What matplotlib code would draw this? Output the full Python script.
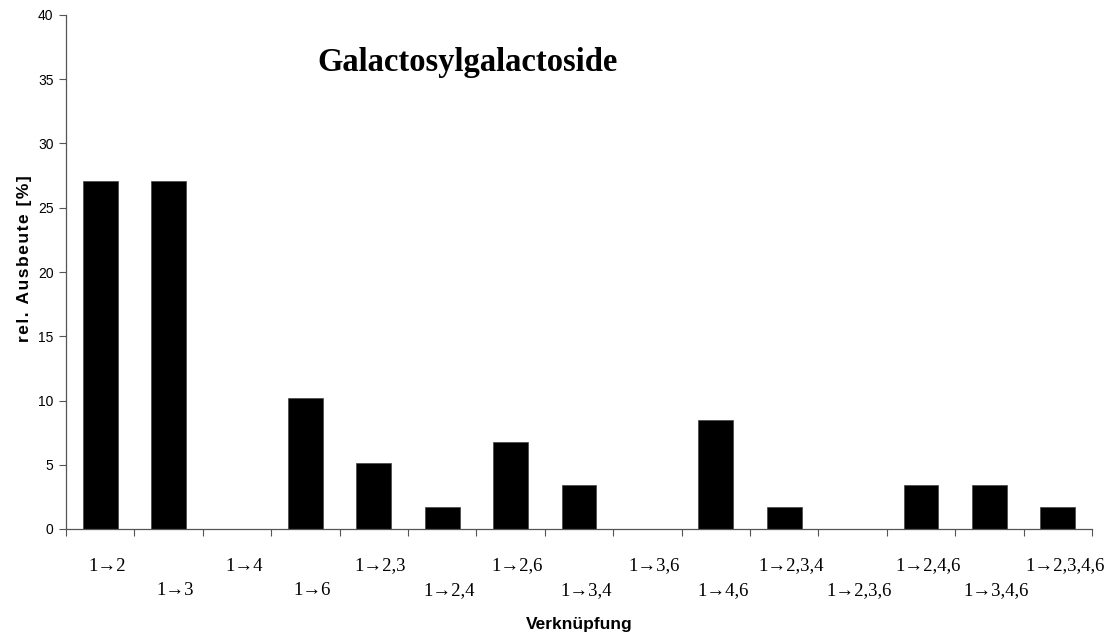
import matplotlib
matplotlib.use("Agg")
import matplotlib.pyplot as plt
import numpy as np

# Daten
verknuepfung = ["1→2", "1→3", "1→4", "1→6", "1→2,3", "1→2,4", "1→2,6", "1→3,4",
                "1→3,6", "1→4,6", "1→2,3,4", "1→2,3,6", "1→2,4,6", "1→3,4,6", "1→2,3,4,6"]
ausbeute = [27.1, 27.1, 0, 10.2, 5.1, 1.7, 6.8, 3.4, 0, 8.5, 1.7, 0, 3.4, 3.4, 1.7]

fig = plt.figure(figsize=(11.04, 6.37), dpi=100)
ax = fig.add_axes([66 / 1104, 1 - 529 / 637, (1092 - 66) / 1104, (529 - 15) / 637])

x = np.arange(len(verknuepfung))
ax.bar(x, ausbeute, width=0.51, color="black", edgecolor="#444444", linewidth=0.5)

ax.set_xlim(-0.5, len(verknuepfung) - 0.5)
ax.set_ylim(0, 40)
ax.set_yticks(np.arange(0, 41, 5))
ax.tick_params(axis="y", direction="out", length=5, width=0.8, color="#555555",
               labelsize=10, pad=4)
for lab in ax.get_yticklabels():
    lab.set_family(["Liberation Sans", "DejaVu Sans"])

# Ticks zwischen den Kategorien
ax.set_xticks(np.arange(-0.5, len(verknuepfung), 1))
ax.set_xticklabels([])
ax.tick_params(axis="x", direction="out", length=5, width=0.8, color="#555555")

for s in ["top", "right"]:
    ax.spines[s].set_visible(False)
for s in ["left", "bottom"]:
    ax.spines[s].set_color("#555555")
    ax.spines[s].set_linewidth(0.9)

# versetzte Kategorienbeschriftung
for i, lab in enumerate(verknuepfung):
    y = -0.072 if i % 2 == 0 else -0.12
    ax.text(i + 0.1, y, lab, transform=ax.get_xaxis_transform(), ha="center", va="center",
            fontsize=13.5, family=["Liberation Serif", "DejaVu Serif"])

ax.text(0.5, -0.185, "Verknüpfung", transform=ax.transAxes, ha="center", va="center",
        fontsize=12.5, fontweight="bold", family=["Liberation Sans", "DejaVu Sans"])
ylab = "\u200a".join("rel. Ausbeute [%]")
fig.text(25 / 1104, 1 - 259 / 637, ylab, rotation=90, ha="center", va="center",
         fontsize=12.5, fontweight="bold", family=["Liberation Sans", "DejaVu Sans"])

ax.text(468 / 1104, 1 - 62 / 637, "Galactosylgalactoside", transform=fig.transFigure,
        ha="center", va="center", fontsize=23.5, fontweight="bold",
        family=["Liberation Serif", "DejaVu Serif"])

fig.savefig("out.png", dpi=100)
